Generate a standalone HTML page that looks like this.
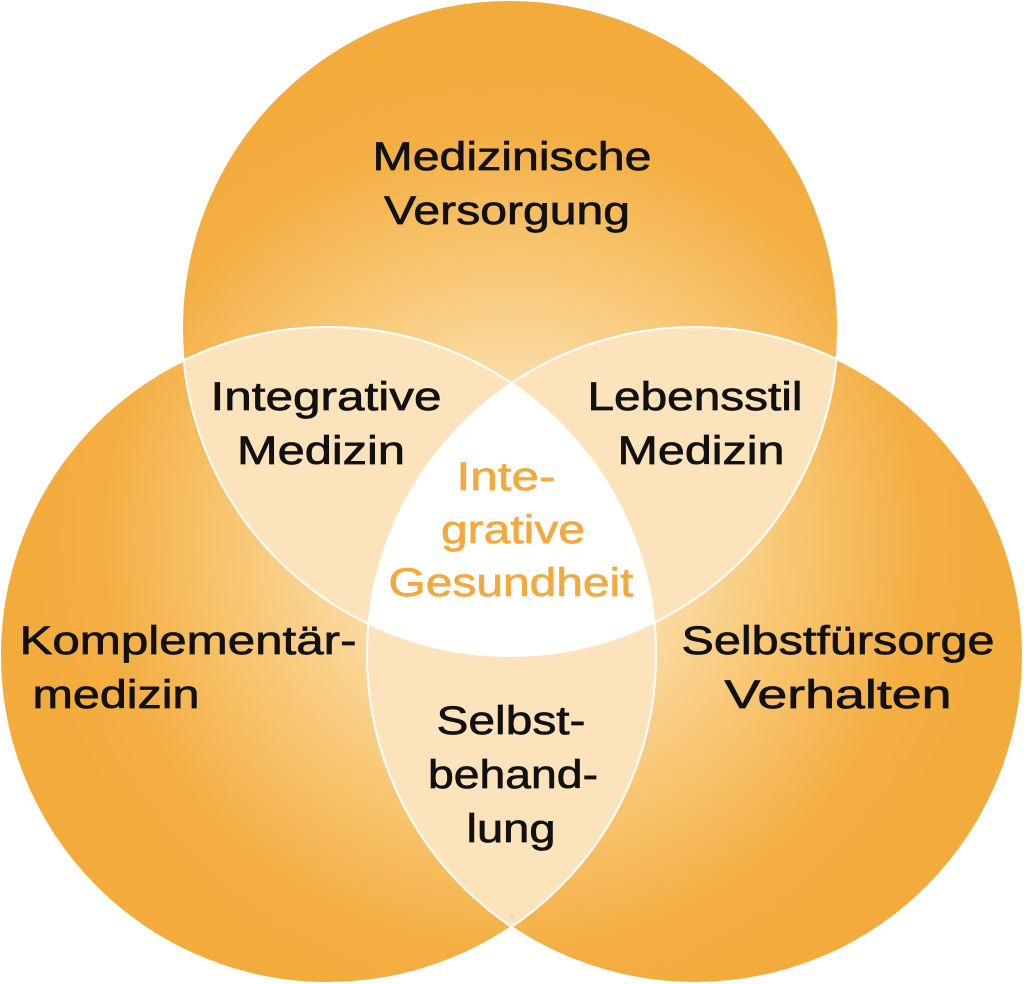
<!DOCTYPE html>
<html><head><meta charset="utf-8"><style>
html,body{margin:0;padding:0;background:#fff;}
svg{display:block;}
text{font-family:"Liberation Sans",sans-serif;font-size:40px;fill:#111;text-anchor:middle;stroke:#111;stroke-width:0.7px;}
</style></head><body>
<svg width="1024" height="984" viewBox="0 0 1024 984" xmlns="http://www.w3.org/2000/svg">
<defs>
<radialGradient id="g" gradientUnits="userSpaceOnUse" cx="512" cy="540" r="480">
<stop offset="0.25" stop-color="#FCE2B6"/>
<stop offset="0.55" stop-color="#F8C978"/>
<stop offset="0.85" stop-color="#F4AF44"/>
<stop offset="1" stop-color="#F3AB3C"/>
</radialGradient>
<clipPath id="cT"><circle cx="510" cy="328" r="328"/></clipPath>
<clipPath id="cL"><circle cx="328" cy="655" r="328"/></clipPath>
<clipPath id="cR"><circle cx="695" cy="655" r="328"/></clipPath>
</defs>
<circle cx="510" cy="328" r="328" fill="url(#g)"/>
<circle cx="328" cy="655" r="328" fill="url(#g)"/>
<circle cx="695" cy="655" r="328" fill="url(#g)"/>
<g clip-path="url(#cT)"><circle cx="328" cy="655" r="328" fill="#FDE3BB"/></g>
<g clip-path="url(#cT)"><circle cx="695" cy="655" r="328" fill="#FDE3BB"/></g>
<g clip-path="url(#cL)"><circle cx="695" cy="655" r="328" fill="#FDE3BB"/></g>
<g clip-path="url(#cT)"><g clip-path="url(#cL)"><circle cx="695" cy="655" r="328" fill="#fff"/></g></g>
<g fill="none" stroke="#fff" stroke-width="2">
<circle cx="510" cy="328" r="328"/>
<circle cx="328" cy="655" r="328"/>
<circle cx="695" cy="655" r="328"/>
</g>
<text x="512" y="170" textLength="279" lengthAdjust="spacingAndGlyphs">Medizinische</text>
<text x="507" y="224" textLength="246" lengthAdjust="spacingAndGlyphs">Versorgung</text>
<text x="326" y="410" textLength="231" lengthAdjust="spacingAndGlyphs">Integrative</text>
<text x="321" y="464" textLength="168" lengthAdjust="spacingAndGlyphs">Medizin</text>
<text x="695" y="410" textLength="215" lengthAdjust="spacingAndGlyphs">Lebensstil</text>
<text x="701" y="464" textLength="167" lengthAdjust="spacingAndGlyphs">Medizin</text>
<text x="506" y="490" textLength="99" lengthAdjust="spacingAndGlyphs" style="fill:#F2AA3E;stroke:#F2AA3E">Inte-</text>
<text x="513" y="543" textLength="144" lengthAdjust="spacingAndGlyphs" style="fill:#F2AA3E;stroke:#F2AA3E">grative</text>
<text x="511" y="596" textLength="245" lengthAdjust="spacingAndGlyphs" style="fill:#F2AA3E;stroke:#F2AA3E">Gesundheit</text>
<text x="188" y="654" textLength="337" lengthAdjust="spacingAndGlyphs">Komplementär-</text>
<text x="116" y="708" textLength="167" lengthAdjust="spacingAndGlyphs">medizin</text>
<text x="838" y="654" textLength="313" lengthAdjust="spacingAndGlyphs">Selbstfürsorge</text>
<text x="838" y="708" textLength="227" lengthAdjust="spacingAndGlyphs">Verhalten</text>
<text x="511" y="734" textLength="149" lengthAdjust="spacingAndGlyphs">Selbst-</text>
<text x="513" y="788" textLength="170" lengthAdjust="spacingAndGlyphs">behand-</text>
<text x="511" y="842" textLength="89" lengthAdjust="spacingAndGlyphs">lung</text>
</svg>
</body></html>
